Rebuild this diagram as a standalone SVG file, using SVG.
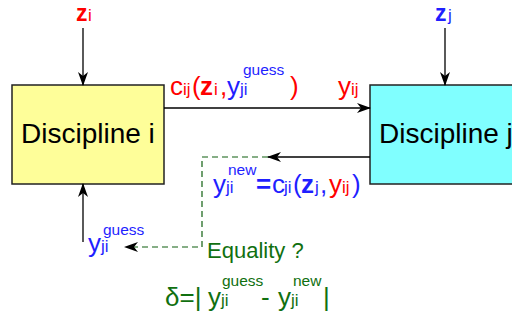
<svg xmlns="http://www.w3.org/2000/svg" width="512" height="320" viewBox="0 0 512 320">
<style>
text{font-family:"Liberation Sans",Arial,sans-serif;}
.m{font-size:26px}
.s{font-size:17px}
.sup{font-size:15.5px}
.t{font-size:23px}
.b{font-weight:bold}
.r{fill:#ff0000}
.bl{fill:#1f1fff}
.g{fill:#107010}
.k{fill:#000}
.box{stroke:#222;stroke-width:1.5}
.ln{stroke:#000;stroke-width:1.3;fill:none}
.dash{stroke:#0f5f0f;stroke-width:1.2;fill:none;stroke-dasharray:6,4}
</style>
<defs>
<marker id="ah" markerWidth="14" markerHeight="10" refX="13" refY="5" orient="auto" markerUnits="userSpaceOnUse">
<path d="M0,0 L14,5 L0,10 L4,5 z" fill="#000"/>
</marker>
</defs>
<g id="node-discipline-i">
<rect class="box" x="12" y="85" width="152" height="99" fill="#fefe99"/>
<text class="k" x="21" y="143" font-size="28">Discipline i</text>
</g>
<g id="node-discipline-j">
<rect class="box" x="370" y="85" width="150" height="99" fill="#80ffff"/>
<text class="k" x="379" y="143" font-size="28">Discipline j</text>
</g>
<g id="connectors">
<line class="ln" x1="83" y1="28" x2="83" y2="85" marker-end="url(#ah)"/>
<line class="ln" x1="445" y1="28" x2="445" y2="85" marker-end="url(#ah)"/>
<line class="ln" x1="164" y1="108" x2="370" y2="108" marker-end="url(#ah)"/>
<line class="ln" x1="370" y1="157" x2="268" y2="157" marker-end="url(#ah)"/>
<polyline class="dash" points="268,157 202,157 202,247 130,247"/>
<path d="M124,247 L138,242 L134,247 L138,252 z" fill="#000"/>
<line class="ln" x1="83" y1="242" x2="83" y2="184" marker-end="url(#ah)"/>
</g>
<g id="labels">
<text class="t b r" x="76" y="21">z</text><text class="s r" x="88" y="21">i</text>
<text class="t b bl" x="435" y="21">z</text><text class="s bl" x="448" y="21">j</text>

<text class="m r" x="170" y="95">c</text><text class="s r" x="183" y="95">ij</text>
<text class="m r" x="192" y="95">(</text>
<text class="m b r" x="200" y="95">z</text><text class="s r" x="214" y="95">i</text>
<text class="m r" x="220" y="95">,</text>
<text class="m bl" x="227" y="95">y</text><text class="s bl" x="240" y="95">ji</text>
<text class="sup bl" x="243" y="75">guess</text>
<text class="m r" x="290" y="95">)</text>
<text class="m r" x="338" y="95">y</text><text class="s r" x="351" y="95">ij</text>

<text class="m bl" x="213" y="193">y</text><text class="s bl" x="226" y="193">ji</text>
<text class="sup bl" x="228" y="175">new</text>
<text class="m b bl" x="256" y="193">=</text>
<text class="m bl" x="272" y="193">c</text><text class="s bl" x="284" y="193">ji</text>
<text class="m bl" x="293" y="193">(</text>
<text class="m b bl" x="301" y="193">z</text><text class="s bl" x="315" y="193">j</text>
<text class="m bl" x="320" y="193">,</text>
<text class="m r" x="329" y="193">y</text><text class="s r" x="342" y="193">ij</text>
<text class="m bl" x="352" y="193">)</text>

<text class="m bl" x="88" y="252">y</text><text class="s bl" x="101" y="252">ji</text>
<text class="sup bl" x="103" y="235">guess</text>

<text class="g" x="207" y="258" font-size="22">Equality ?</text>

<text class="m g" x="165" y="306">δ=|</text>
<text class="m g" x="208" y="306">y</text><text class="s g" x="221" y="306">ji</text>
<text class="sup g" x="222" y="286" font-size="15">guess</text>
<text class="m g" x="261" y="306">-</text>
<text class="m g" x="278" y="306">y</text><text class="s g" x="291" y="306">ji</text>
<text class="sup g" x="293" y="286">new</text>
<text class="m g" x="323" y="306">|</text>
</g>
</svg>
